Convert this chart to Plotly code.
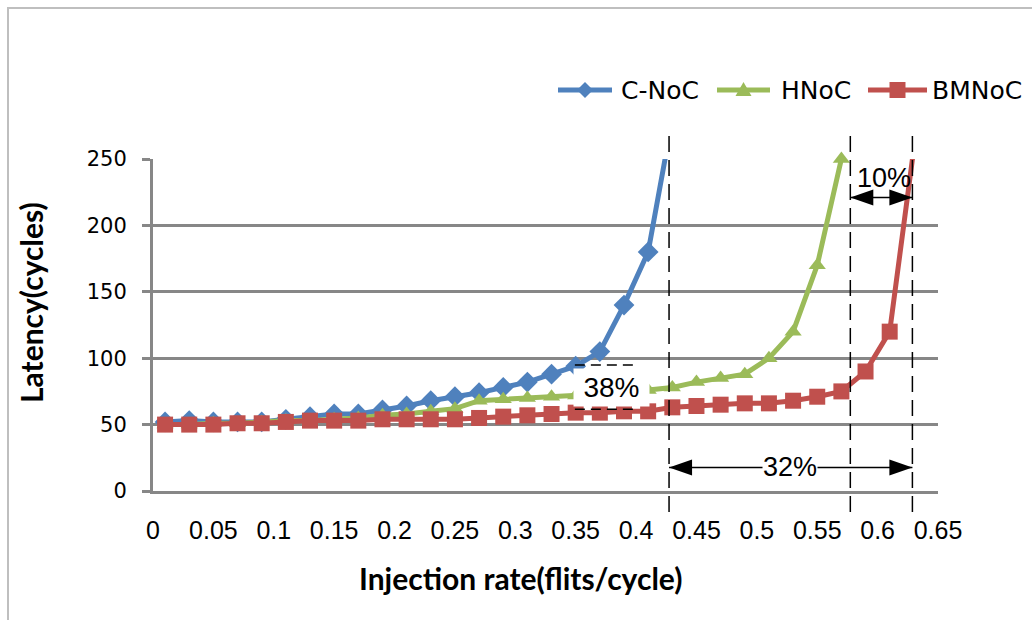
import plotly.graph_objects as go

# ---- data ----
cnoc_x = [0.01, 0.03, 0.05, 0.07, 0.09, 0.11, 0.13, 0.15, 0.17, 0.19, 0.21,
          0.23, 0.25, 0.27, 0.29, 0.31, 0.33, 0.35, 0.37, 0.39, 0.41, 0.43]
cnoc_y = [52, 53, 52, 52, 52, 54, 56, 58, 58, 61, 64,
          68, 71, 74, 78, 82, 88, 94, 105, 140, 180, 280]

hnoc_x = [0.01, 0.03, 0.05, 0.07, 0.09, 0.11, 0.13, 0.15, 0.17, 0.19, 0.21,
          0.23, 0.25, 0.27, 0.29, 0.31, 0.33, 0.35, 0.37, 0.39, 0.41, 0.43,
          0.45, 0.47, 0.49, 0.51, 0.53, 0.55, 0.57]
hnoc_y = [50, 50, 51, 51, 52, 53, 53, 54, 55, 57, 58,
          60, 62, 68, 69, 70, 71, 72, 73, 74, 76, 78,
          82, 85, 88, 100, 120, 170, 250]

bmnoc_x = [0.01, 0.03, 0.05, 0.07, 0.09, 0.11, 0.13, 0.15, 0.17, 0.19, 0.21,
           0.23, 0.25, 0.27, 0.29, 0.31, 0.33, 0.35, 0.37, 0.39, 0.41, 0.43,
           0.45, 0.47, 0.49, 0.51, 0.53, 0.55, 0.57, 0.59, 0.61, 0.63]
bmnoc_y = [50, 50, 50, 51, 51, 52, 53, 53, 53, 54, 54,
           54, 54, 55, 56, 57, 58, 59, 59, 60, 60, 63,
           64, 65, 66, 66, 68, 71, 75, 90, 120, 258]

series_names = ["C-NoC", "HNoC", "BMNoC"]

x_ticks = [0, 0.05, 0.1, 0.15, 0.2, 0.25, 0.3, 0.35, 0.4, 0.45, 0.5, 0.55, 0.6, 0.65]
x_tick_labels = ["0", "0.05", "0.1", "0.15", "0.2", "0.25", "0.3", "0.35",
                 "0.4", "0.45", "0.5", "0.55", "0.6", "0.65"]
y_ticks = [0, 50, 100, 150, 200, 250]

# saturation markers (vertical dashed lines) and annotations
sat_cnoc, sat_hnoc, sat_bmnoc = 0.4273, 0.5774, 0.6288
pct_labels = ["38%", "10%", "32%"]

BLUE, GREEN, RED = "#4F81BD", "#9BBB59", "#C0504D"
GRID = "#878787"
NARROW = "Liberation Sans Narrow, Arial Narrow, Liberation Sans, sans-serif"

# plot-area geometry in pixels (used for the hand-placed legend/frame)
W, H = 1032, 620
ML, MR, MT, MB = 153, 94, 159, 129
PW, PH = W - ML - MR, H - MT - MB


def px(xp):
    return (xp - ML) / PW


def py(yp):
    return (H - MB - yp) / PH


fig = go.Figure()
fig.add_trace(go.Scatter(x=cnoc_x, y=cnoc_y, name=series_names[0], mode="lines+markers",
                         line=dict(color=BLUE, width=5), showlegend=False,
                         marker=dict(symbol="diamond", size=16, color=BLUE)))
fig.add_trace(go.Scatter(x=hnoc_x, y=hnoc_y, name=series_names[1], mode="lines+markers",
                         line=dict(color=GREEN, width=5), cliponaxis=False,
                         showlegend=False,
                         marker=dict(symbol="triangle-up", size=15, color=GREEN)))
fig.add_trace(go.Scatter(x=bmnoc_x, y=bmnoc_y, name=series_names[2], mode="lines+markers",
                         line=dict(color=RED, width=5), showlegend=False,
                         marker=dict(symbol="square", size=16, color=RED)))

shapes = []
# outer chart border (left and top)
shapes.append(dict(type="path", xref="paper", yref="paper",
                   path="M %.4f,%.4f L %.4f,%.4f L %.4f,%.4f" % (
                       px(8), py(640), px(8), py(8), px(1050), py(8)),
                   line=dict(color="#BFBFBF", width=2)))
# vertical dashed lines
for xv in (sat_cnoc, sat_hnoc, sat_bmnoc):
    shapes.append(dict(type="line", xref="x", yref="paper", x0=xv, x1=xv,
                       y0=py(512), y1=py(135),
                       line=dict(color="black", width=1.5, dash="16px,8px")))
# 38% dashed horizontal lines
for yv in (94.8, 61.6):
    shapes.append(dict(type="line", xref="x", yref="y", x0=0.3493, x1=0.3974,
                       y0=yv, y1=yv,
                       line=dict(color="black", width=1.5, dash="10px,6px")))


# dimension arrows
def dim_arrow(xa, xb, yv):
    out = [dict(type="line", xref="x", yref="y", x0=xa, x1=xb, y0=yv, y1=yv,
                line=dict(color="black", width=1.5))]
    out.append(dict(type="path", xref="x", yref="y", xsizemode="pixel",
                    ysizemode="pixel", xanchor=xa, yanchor=yv,
                    path="M 0,0 L 23,8 L 23,-8 Z", fillcolor="black",
                    line=dict(color="black", width=0)))
    out.append(dict(type="path", xref="x", yref="y", xsizemode="pixel",
                    ysizemode="pixel", xanchor=xb, yanchor=yv,
                    path="M 0,0 L -23,8 L -23,-8 Z", fillcolor="black",
                    line=dict(color="black", width=0)))
    return out


shapes += dim_arrow(sat_hnoc, sat_bmnoc, 221)
shapes += dim_arrow(sat_cnoc, sat_bmnoc, 17.7)

# legend (hand placed to match the reference layout)
legend_items = [
    (series_names[0], BLUE, 558, 612, "M -8,0 L 0,8 L 8,0 L 0,-8 Z", 619),
    (series_names[1], GREEN, 717, 770, "M -8,-6 L 8,-6 L 0,8 Z", 779),
    (series_names[2], RED, 868, 927, "M -8,-8 L 8,-8 L 8,8 L -8,8 Z", 930),
]
LEG_Y = 90
legend_annotations = []
for name, col, xa, xb, sym, xt in legend_items:
    shapes.append(dict(type="line", xref="paper", yref="paper", x0=px(xa), x1=px(xb),
                       y0=py(LEG_Y), y1=py(LEG_Y), line=dict(color=col, width=5)))
    shapes.append(dict(type="path", xref="paper", yref="paper", xsizemode="pixel",
                       ysizemode="pixel", xanchor=px((xa + xb) / 2), yanchor=py(LEG_Y),
                       path=sym, fillcolor=col, line=dict(color=col, width=0)))
    legend_annotations.append(dict(x=px(xt), y=py(LEG_Y), xref="paper", yref="paper",
                                   xanchor="left", yanchor="middle", text=name,
                                   showarrow=False,
                                   font=dict(family="DejaVu Sans", size=25,
                                             color="black")))

annotations = [
    dict(x=0.3796, y=77.8, xref="x", yref="y", text=pct_labels[0], showarrow=False,
         font=dict(family=NARROW, size=28, color="black"), bgcolor="white",
         width=73, height=35),
    dict(x=0.6056, y=236, xref="x", yref="y", text=pct_labels[1], showarrow=False,
         font=dict(family=NARROW, size=27, color="black")),
    dict(x=0.5276, y=17.7, xref="x", yref="y", text=pct_labels[2], showarrow=False,
         font=dict(family=NARROW, size=27, color="black"), bgcolor="white",
         borderpad=0),
    dict(x=px(520), y=py(578), xref="paper", yref="paper", xanchor="center",
         yanchor="middle", text="Injection rate(flits/cycle)", showarrow=False,
         font=dict(family="Lato", size=30, color="black", weight="bold")),
    dict(x=px(31), y=py(303), xref="paper", yref="paper", xanchor="center",
         yanchor="middle", text="Latency(cycles)",
         showarrow=False, textangle=-90,
         font=dict(family="Lato", size=30, color="black", weight="bold")),
] + legend_annotations

fig.update_layout(
    width=W, height=H,
    margin=dict(l=ML, r=MR, t=MT, b=MB),
    plot_bgcolor="white", paper_bgcolor="white",
    showlegend=False,
    shapes=shapes,
    annotations=annotations,
)
fig.update_xaxes(range=[0, 0.65], tickvals=x_ticks, ticktext=x_tick_labels,
                 showgrid=False, zeroline=False, showline=True, linecolor=GRID,
                 linewidth=3, ticks="", ticklabelstandoff=15,
                 tickfont=dict(family=NARROW, size=25, color="black"))
fig.update_yaxes(range=[0, 250], tickvals=y_ticks, showgrid=True, gridcolor=GRID,
                 gridwidth=3, zeroline=False, showline=True, linecolor=GRID,
                 linewidth=3, ticks="outside", ticklen=8, tickwidth=3,
                 tickcolor=GRID, ticklabelstandoff=11,
                 tickfont=dict(family="DejaVu Sans", size=21, color="black"))

fig.write_html("out.html")
